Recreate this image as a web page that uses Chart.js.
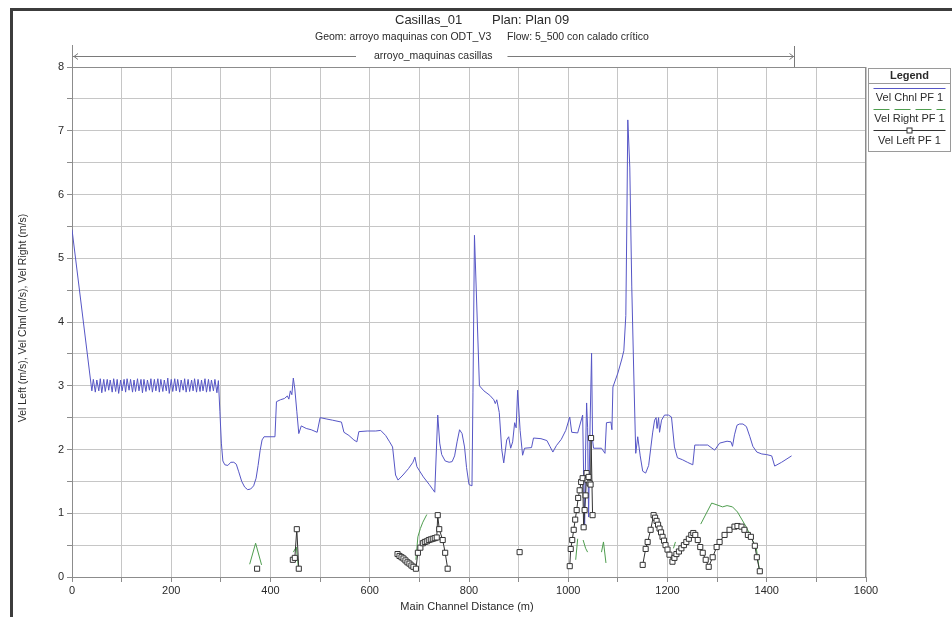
<!DOCTYPE html>
<html><head><meta charset="utf-8">
<script src="https://cdn.jsdelivr.net/npm/chart.js@4/dist/chart.umd.min.js"></script>
<style>html,body{margin:0;padding:0;background:#fff;}canvas{display:block;}</style>
</head><body><canvas id="c" width="952" height="617"></canvas>
<script>
const titleMain = 'Casillas_01';
const titlePlan = 'Plan: Plan 09';
const subGeom = 'Geom: arroyo maquinas con ODT_V3';
const subFlow = 'Flow: 5_500 con calado crítico';
const reachName = 'arroyo_maquinas casillas';
const reachStart = 0, reachEnd = 1455;
const xTitle = 'Main Channel Distance (m)';
const yTitle = 'Vel Left (m/s), Vel Chnl (m/s), Vel Right (m/s)';
const seriesNames = ['Vel Chnl PF 1', 'Vel Right PF 1', 'Vel Left PF 1'];
const xTickLabels = [0, 200, 400, 600, 800, 1000, 1200, 1400, 1600];
const yTickLabels = [0, 1, 2, 3, 4, 5, 6, 7, 8];

const chnlX = [0,40,43,47,50,54,57,60,64,67,71,74,77,81,84,88,91,94,98,101,105,108,111,115,118,122,125,128,132,135,139,142,145,149,152,156,159,162,166,169,173,176,179,183,186,190,193,196,200,203,207,210,213,217,220,224,227,230,234,237,241,244,247,251,254,258,261,264,268,271,275,278,281,285,288,292,295,298,301,304,308,314,320,326,331,336,342,348,354,360,366,371,375,379,383,387,409,412,420,428,434,437,440,443,446,449,453,457,462,472,482,494,500,512,525,543,548,558,568,574,578,595,612,622,632,640,646,652,657,667,678,687,691,695,708,720,731,737,741,745,752,760,766,771,776,781,786,791,795,800,806,808,811,821,830,842,850,853,856,861,866,870,876,880,884,888,892,895,898,903,908,912,926,930,945,957,963,969,976,986,995,1003,1007,1019,1029,1031,1033,1035,1037,1039,1041,1044,1047,1049,1051,1067,1074,1077,1086,1088,1090,1100,1108,1112,1116,1118,1120,1124,1128,1132,1136,1140,1145,1150,1156,1162,1170,1174,1177,1179,1182,1184,1188,1194,1202,1208,1214,1220,1230,1240,1251,1255,1265,1281,1295,1305,1320,1328,1331,1335,1340,1345,1352,1359,1366,1372,1380,1390,1400,1410,1416,1430,1450];
const chnlY = [5.45,2.92,3.1,2.9,3.09,2.92,3.11,2.89,3.1,2.91,3.1,2.93,3.09,2.9,3.11,2.91,3.1,2.88,3.09,2.92,3.1,2.9,3.11,2.93,3.1,2.9,3.09,2.91,3.11,2.92,3.1,2.89,3.1,2.91,3.09,2.93,3.11,2.9,3.1,2.92,3.11,2.9,3.1,2.91,3.09,2.92,3.12,2.88,3.1,2.91,3.11,2.92,3.1,2.9,3.09,2.93,3.11,2.9,3.1,2.91,3.09,2.92,3.11,2.9,3.1,2.91,3.09,2.92,3.11,2.9,3.1,2.91,3.09,2.92,3.1,2.89,3.08,2.6,2.1,1.82,1.76,1.75,1.8,1.8,1.77,1.65,1.5,1.41,1.37,1.38,1.43,1.55,1.75,1.98,2.15,2.2,2.2,2.75,2.78,2.8,2.84,2.79,2.92,2.86,3.12,2.95,2.6,2.25,2.37,2.33,2.31,2.27,2.5,2.48,2.46,2.43,2.27,2.22,2.15,2.12,2.28,2.29,2.29,2.3,2.22,2.12,2.04,1.6,1.52,1.6,1.7,1.8,1.88,1.73,1.57,1.45,1.33,2.54,2.1,1.92,1.82,1.8,1.81,1.9,2.12,2.31,2.25,2.04,1.72,1.45,1.43,2.9,5.36,3.0,2.92,2.85,2.78,2.72,2.78,2.58,2.0,1.79,2.15,2.2,2.02,2.12,2.42,2.34,2.93,2.3,1.91,2.02,2.03,2.18,2.17,2.14,2.05,1.96,2.06,2.16,2.3,2.51,2.27,2.26,2.54,1.6,0.74,2.0,2.73,2.35,0.94,2.4,3.51,2.15,2.02,2.02,1.94,2.42,2.43,2.31,2.98,3.2,3.42,3.55,4.1,5.5,7.17,6.43,4.55,3.2,1.94,2.2,1.9,1.66,1.63,1.75,2.26,2.46,2.5,2.33,2.5,2.27,2.46,2.54,2.54,2.51,2.04,1.87,1.84,1.8,1.76,2.07,2.07,2.07,1.99,2.1,2.13,2.12,2.05,2.23,2.38,2.4,2.4,2.36,2.2,2.05,1.96,1.93,1.92,1.9,1.74,1.8,1.9];

const rightX = [358,370,382,382, 446,452,456,456, 693,697,702,707,715,715, 1015,1019,1019, 1030,1035,1039,1039, 1067,1071,1076,1076, 1212,1216,1216, 1267,1289,1300,1311,1320,1331,1341,1359,1379,1385];
const rightY = [0.2,0.53,0.19,null, 0.39,0.47,0.16,null, 0.27,0.63,0.76,0.86,0.98,null, 0.27,0.6,null, 0.58,0.45,0.39,null, 0.39,0.55,0.22,null, 0.45,0.55,null, 0.83,1.16,1.13,1.1,1.12,1.1,1.02,0.78,0.45,0.11];

const leftX = [373,373, 445,449,453,457,457, 656,660,664,668,672,676,680,684,688,693,697,702,707,711,715,719,723,727,731,735,737,740,747,752,757,757, 902,902, 1003,1005,1008,1011,1014,1017,1020,1023,1026,1029,1031,1033,1035,1037,1039,1041,1043,1045,1046,1049,1049, 1150,1156,1160,1166,1172,1175,1178,1181,1184,1187,1190,1193,1196,1200,1204,1210,1214,1218,1223,1228,1233,1238,1243,1248,1252,1256,1261,1266,1271,1277,1283,1291,1299,1305,1315,1325,1335,1341,1349,1355,1362,1368,1376,1380,1386];
const leftY = [0.13,null, 0.27,0.3,0.75,0.13,null, 0.36,0.33,0.31,0.29,0.26,0.23,0.21,0.18,0.16,0.13,0.38,0.46,0.53,0.55,0.56,0.58,0.59,0.6,0.61,0.62,0.97,0.75,0.58,0.38,0.13,null, 0.39,null, 0.17,0.44,0.58,0.74,0.9,1.05,1.24,1.36,1.49,1.55,0.78,1.05,1.28,1.63,1.52,1.57,1.47,1.45,2.18,0.97,null, 0.19,0.44,0.55,0.74,0.97,0.93,0.88,0.82,0.76,0.7,0.63,0.57,0.5,0.43,0.35,0.24,0.3,0.36,0.4,0.45,0.5,0.55,0.6,0.66,0.69,0.66,0.58,0.47,0.38,0.27,0.16,0.31,0.47,0.55,0.66,0.74,0.79,0.8,0.79,0.74,0.66,0.63,0.49,0.31,0.09];

const pts = (xs, ys) => xs.map((x, i) => ({x: x, y: ys[i]}));

const FONT = '"Liberation Sans", Arial, sans-serif';
const TXT = '#2a2a2a';
const BLUE = '#5656c6';
const GREEN = '#4f9e4f';
const BLACK = '#333333';

const decor = {
  id: 'decor',
  beforeDraw(chart) {
    const c = chart.ctx;
    c.save(); c.fillStyle = '#fff'; c.fillRect(0, 0, chart.width, chart.height); c.restore();
  },
  afterDraw(chart) {
    const c = chart.ctx, xs = chart.scales.x, a = chart.chartArea;
    c.save();
    // outer frame
    c.strokeStyle = '#3c3c3c'; c.lineWidth = 3;
    c.beginPath(); c.moveTo(11.5, 617); c.lineTo(11.5, 9.5); c.lineTo(952, 9.5); c.stroke();
    // plot top/right borders and axis extension
    c.strokeStyle = '#8c8c8c'; c.lineWidth = 1;
    c.beginPath();
    c.moveTo(a.left, Math.round(a.top) + 0.5); c.lineTo(a.right, Math.round(a.top) + 0.5);
    c.moveTo(Math.round(a.right) - 0.5, a.top); c.lineTo(Math.round(a.right) - 0.5, a.bottom);
    c.moveTo(Math.round(a.left) + 0.5, a.top); c.lineTo(Math.round(a.left) + 0.5, 45);
    c.stroke();
    // reach arrow
    const ry = 56.5;
    const rx0 = xs.getPixelForValue(reachStart), rx1 = Math.round(xs.getPixelForValue(reachEnd)) + 0.5;
    const rmid = (rx0 + rx1) / 2;
    c.font = '10.5px ' + FONT;
    const tw = c.measureText(reachName).width;
    c.strokeStyle = '#7a7a7a';
    c.beginPath();
    c.moveTo(rx0 + 1, ry); c.lineTo(rmid - tw / 2 - 18, ry);
    c.moveTo(rmid + tw / 2 + 15, ry); c.lineTo(rx1, ry);
    c.moveTo(rx0 + 6, ry - 3); c.lineTo(rx0 + 2, ry); c.lineTo(rx0 + 6, ry + 3);
    c.moveTo(rx1 - 5, ry - 3); c.lineTo(rx1 - 1, ry); c.lineTo(rx1 - 5, ry + 3);
    c.moveTo(rx1, 46); c.lineTo(rx1, a.top);
    c.stroke();
    c.fillStyle = TXT; c.textAlign = 'center'; c.textBaseline = 'middle';
    c.fillText(reachName, rmid, ry);
    // titles
    c.textAlign = 'left';
    c.font = '13px ' + FONT;
    c.fillText(titleMain, 395, 20);
    c.fillText(titlePlan, 492, 20);
    c.font = '10.5px ' + FONT;
    c.fillText(subGeom, 315, 37);
    c.fillText(subFlow, 507, 37);
    // axis titles
    c.textAlign = 'center';
    c.font = '11px ' + FONT;
    c.fillText(xTitle, (a.left + a.right) / 2 - 2, 607);
    c.save();
    c.translate(23, 318); c.rotate(-Math.PI / 2);
    c.font = '10.5px ' + FONT;
    c.fillText(yTitle, 0, 0);
    c.restore();
    // legend
    const lx = 868.5, ly = 68.5, lw = 82, lh = 83, lc = lx + lw / 2;
    c.strokeStyle = '#9a9a9a'; c.lineWidth = 1;
    c.strokeRect(lx, ly, lw, lh);
    c.beginPath(); c.moveTo(lx, 83.5); c.lineTo(lx + lw, 83.5); c.stroke();
    c.font = 'bold 11px ' + FONT; c.fillStyle = TXT;
    c.fillText('Legend', lc, 75.5);
    c.font = '11px ' + FONT;
    // chnl
    c.strokeStyle = BLUE; c.beginPath(); c.moveTo(lx + 5, 88.5); c.lineTo(lx + lw - 5, 88.5); c.stroke();
    c.fillText(seriesNames[0], lc, 98);
    // right
    c.strokeStyle = GREEN; c.setLineDash([16, 5]);
    c.beginPath(); c.moveTo(lx + 5, 109.5); c.lineTo(lx + lw - 5, 109.5); c.stroke();
    c.setLineDash([]);
    c.fillText(seriesNames[1], lc, 119);
    // left
    c.strokeStyle = BLACK; c.beginPath(); c.moveTo(lx + 5, 130.5); c.lineTo(lx + lw - 5, 130.5); c.stroke();
    c.fillStyle = '#fff'; c.fillRect(lc - 2.5, 128, 5, 5); c.strokeRect(lc - 2.5, 128, 5, 5);
    c.fillStyle = TXT;
    c.fillText(seriesNames[2], lc, 141);
    c.restore();
  }
};

new Chart(document.getElementById('c'), {
  type: 'scatter',
  data: {
    datasets: [
      { label: seriesNames[2], data: pts(leftX, leftY), showLine: true, spanGaps: false,
        borderColor: BLACK, borderWidth: 1, pointStyle: 'rect', pointRadius: 3.6,
        pointBackgroundColor: '#ffffff', pointBorderColor: BLACK, pointBorderWidth: 1 },
      { label: seriesNames[1], data: pts(rightX, rightY), showLine: true, spanGaps: false,
        borderColor: GREEN, borderWidth: 1, pointRadius: 0 },
      { label: seriesNames[0], data: pts(chnlX, chnlY), showLine: true, spanGaps: false,
        borderColor: BLUE, borderWidth: 1, pointRadius: 0 }
    ]
  },
  options: {
    responsive: false, animation: false, devicePixelRatio: 1,
    layout: { padding: { left: 0, top: 67, right: 86, bottom: 0 } },
    plugins: { legend: { display: false }, tooltip: { enabled: false }, title: { display: false } },
    scales: {
      x: {
        type: 'linear', min: 0, max: 1600,
        afterFit(s) { s.height = 40; },
        ticks: { stepSize: 100, autoSkip: false, maxRotation: 0, color: TXT, padding: 2,
          font: { family: FONT, size: 11 },
          callback: (v) => xTickLabels.includes(v) ? String(v) : '' },
        grid: { color: '#c6c6c6', tickColor: '#8c8c8c', tickLength: 5, lineWidth: 1 },
        border: { color: '#8c8c8c' }
      },
      y: {
        type: 'linear', min: 0, max: 8,
        afterFit(s) { s.width = 72; },
        ticks: { stepSize: 0.5, autoSkip: false, color: TXT, padding: 3,
          font: { family: FONT, size: 11 },
          callback: (v) => yTickLabels.includes(v) ? String(v) : '' },
        grid: { color: '#c6c6c6', tickColor: '#8c8c8c', tickLength: 5, lineWidth: 1 },
        border: { color: '#8c8c8c' }
      }
    }
  },
  plugins: [decor]
});
</script></body></html>
